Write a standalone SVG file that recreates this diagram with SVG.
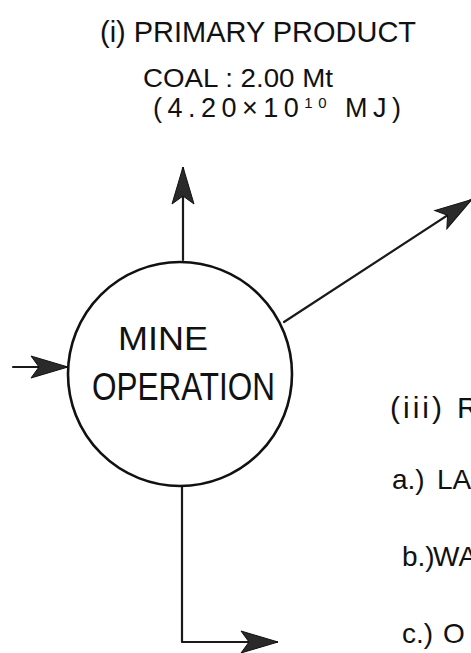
<svg xmlns="http://www.w3.org/2000/svg" width="471" height="653" viewBox="0 0 471 653">
<style>
  .t { font-family: "Liberation Sans", "DejaVu Sans", sans-serif; fill: #111; }
  .ln { fill: none; stroke: #1a1a1a; stroke-width: 2.2; stroke-linecap: round; stroke-linejoin: round; }
  .node { fill: #fff; stroke: #111; stroke-width: 2.6; }
</style>
<defs>
  <marker id="ah" markerUnits="userSpaceOnUse" markerWidth="38" markerHeight="24" viewBox="0 0 38 24" refX="37" refY="12" orient="auto" overflow="visible">
    <path d="M38 12 L1 1 L9 12 L1 23 Z" fill="#2a2a2a" stroke="#111" stroke-width="1"/>
  </marker>
</defs>
<rect width="471" height="653" fill="#fff"/>
<g id="connectors">
  <line class="ln" x1="183" y1="260" x2="183" y2="168" marker-end="url(#ah)"/>
  <line class="ln" x1="284" y1="322" x2="471" y2="200" marker-end="url(#ah)"/>
  <line class="ln" x1="13" y1="367" x2="67" y2="367" marker-end="url(#ah)"/>
  <polyline class="ln" points="182,487 182,642 277,642" marker-end="url(#ah)"/>
</g>
<g id="mine-operation">
  <circle class="node" cx="180" cy="374" r="112"/>
  <text class="t" x="118" y="350" font-size="34" textLength="90" lengthAdjust="spacingAndGlyphs">MINE</text>
  <text class="t" x="92" y="400" font-size="38" textLength="183" lengthAdjust="spacingAndGlyphs">OPERATION</text>
</g>
<g id="primary-product">
  <text class="t" x="100" y="42" font-size="30" textLength="316" lengthAdjust="spacingAndGlyphs">(i) PRIMARY PRODUCT</text>
  <text class="t" x="143" y="87" font-size="25" textLength="190" lengthAdjust="spacingAndGlyphs">COAL : 2.00 Mt</text>
  <text class="t" x="153" y="117" font-size="27" letter-spacing="5.5">(4.20×10<tspan font-size="15" dy="-9">10</tspan><tspan dy="9"> MJ)</tspan></text>
</g>
<g id="residues">
  <text class="t" x="390" y="418" font-size="30" letter-spacing="3">(iii)<tspan x="457" letter-spacing="0">R</tspan></text>
  <text class="t" x="392" y="489" font-size="28">a.)<tspan x="437">LA</tspan></text>
  <text class="t" x="402" y="566" font-size="28">b.)<tspan x="433">WA</tspan></text>
  <text class="t" x="402" y="643" font-size="28">c.)<tspan x="443">O</tspan></text>
</g>
</svg>
